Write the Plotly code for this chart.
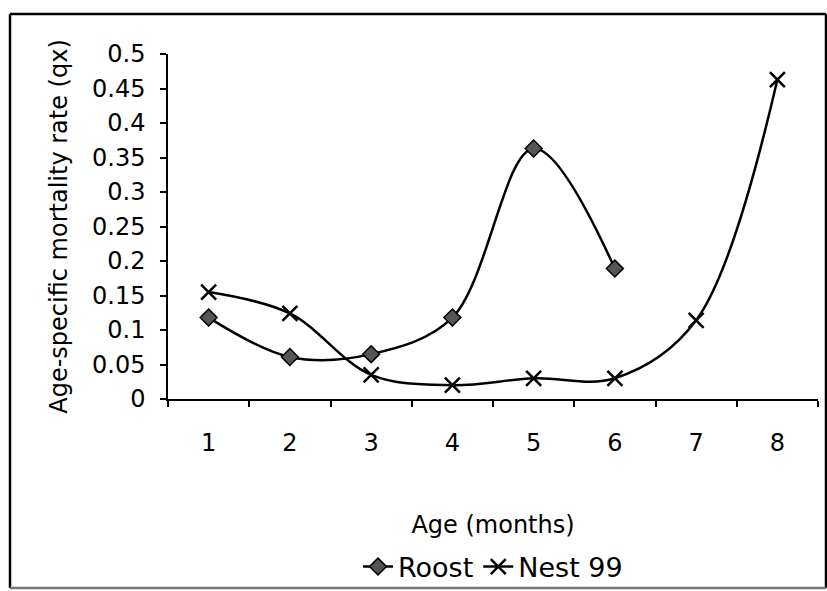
import plotly.graph_objects as go

# ---- data ----
ages = ["1", "2", "3", "4", "5", "6", "7", "8"]
roost_ages = ["1", "2", "3", "4", "5", "6"]
roost_qx = [0.118, 0.061, 0.065, 0.118, 0.363, 0.189]
nest_ages = ["1", "2", "3", "4", "5", "6", "7", "8"]
nest_qx = [0.155, 0.124, 0.035, 0.020, 0.030, 0.030, 0.114, 0.463]
y_tick_vals = [0, 0.05, 0.1, 0.15, 0.2, 0.25, 0.3, 0.35, 0.4, 0.45, 0.5]
y_tick_text = ["0", "0.05", "0.1", "0.15", "0.2", "0.25", "0.3", "0.35", "0.4", "0.45", "0.5"]

FONT = "DejaVu Sans, Liberation Sans, Arial, sans-serif"
FS = 24

fig = go.Figure()
fig.add_trace(go.Scatter(
    x=roost_ages, y=roost_qx, name="Roost", mode="lines+markers",
    line=dict(color="black", width=2.5, shape="spline", smoothing=1),
    marker=dict(symbol="diamond", size=13, color="#555555",
                line=dict(color="black", width=1.5)),
    cliponaxis=False,
))
fig.add_trace(go.Scatter(
    x=nest_ages, y=nest_qx, name="Nest 99", mode="lines+markers",
    line=dict(color="black", width=2.5, shape="spline", smoothing=1),
    marker=dict(symbol="x-thin", size=15, color="black",
                line=dict(color="black", width=2.5)),
    cliponaxis=False,
))

L, R, T, B = 168, 9, 54, 192
W, H = 827, 591
pw, ph = W - L - R, H - T - B

def px(x):
    return (x - L) / pw

def py(y):
    return (H - B - y) / ph

shapes = [
    dict(type="line", xref="paper", yref="paper", x0=px(10), x1=px(10), y0=py(588), y1=py(14),
         line=dict(color="black", width=2.5)),
    dict(type="line", xref="paper", yref="paper", x0=px(10), x1=px(826), y0=py(14), y1=py(14),
         line=dict(color="black", width=2.5)),
    dict(type="line", xref="paper", yref="paper", x0=px(826), x1=px(826), y0=py(588), y1=py(14),
         line=dict(color="black", width=2.5)),
    dict(type="line", xref="paper", yref="paper", x0=px(10), x1=px(826), y0=py(588), y1=py(588),
         line=dict(color="#777777", width=2.5)),
]

fig.update_layout(
    width=W, height=H, autosize=False,
    margin=dict(l=L, r=R, t=T, b=B, pad=0, autoexpand=False),
    paper_bgcolor="white", plot_bgcolor="white",
    font=dict(family=FONT, size=FS, color="black"),
    showlegend=True,
    legend=dict(orientation="h", x=0.5, xanchor="center",
                yref="container", y=1 - 567 / H, yanchor="middle",
                font=dict(family=FONT, size=27, color="black"),
                bgcolor="rgba(0,0,0,0)", itemwidth=30, tracegroupgap=0),
    shapes=shapes,
    xaxis=dict(
        type="category", categoryorder="array", categoryarray=ages,
        range=[-0.5, 7.5], showgrid=False, zeroline=False, automargin=False,
        showline=True, linecolor="black", linewidth=1.5,
        ticks="outside", tickson="boundaries", ticklen=6, tickwidth=1.5, tickcolor="black",
        tickfont=dict(family=FONT, size=FS, color="black"),
        ticklabelstandoff=21,
        title=dict(text="Age (months)", font=dict(family=FONT, size=FS, color="black"), standoff=61),
    ),
    yaxis=dict(
        range=[0, 0.5], tickvals=y_tick_vals, ticktext=y_tick_text,
        showgrid=False, zeroline=False, automargin=False,
        showline=True, linecolor="black", linewidth=1.5,
        ticks="outside", ticklen=6, tickwidth=1.5, tickcolor="black",
        tickfont=dict(family=FONT, size=FS, color="black"),
        ticklabelstandoff=10,
        title=dict(text="Age-specific mortality rate (qx)", font=dict(family=FONT, size=FS, color="black"), standoff=18),
    ),
)

fig.write_html("out.html", config={"displayModeBar": False},
               post_script="document.body.style.margin='0';document.body.style.overflow='hidden';")
